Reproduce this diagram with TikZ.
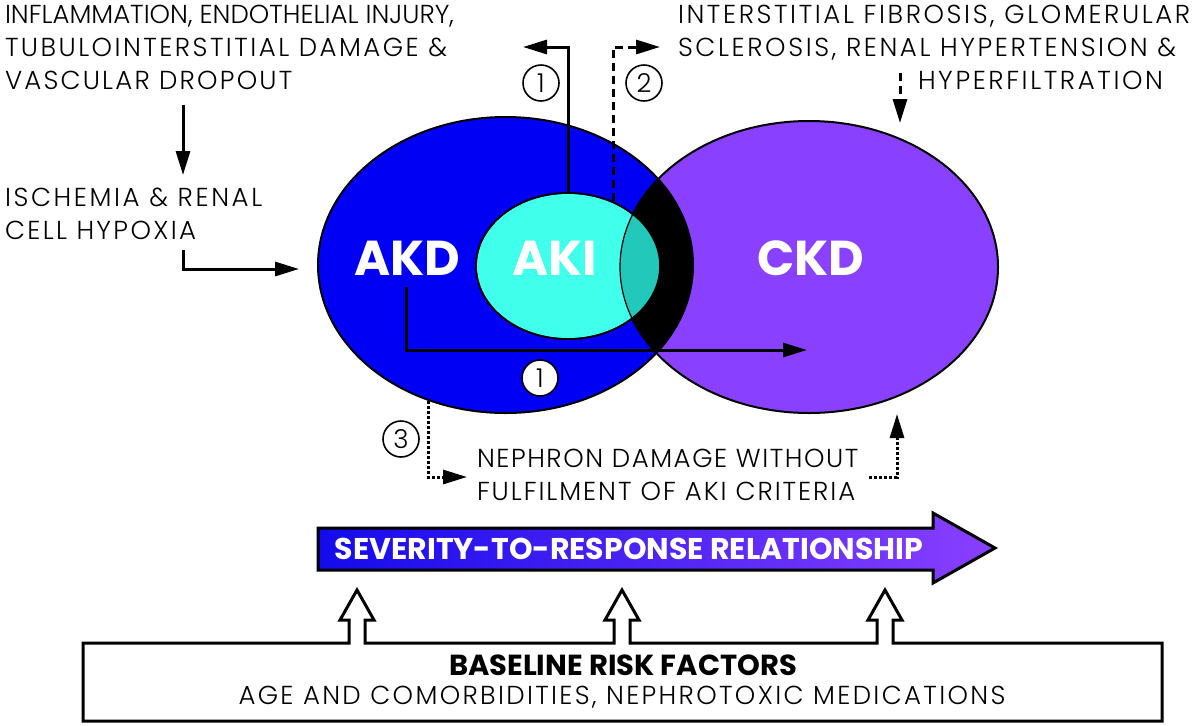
\documentclass[tikz,border=0pt]{standalone}
\usepackage{fontspec}
\setmainfont{Poppins}[UprightFont={* Light},BoldFont={* Bold}]
\usetikzlibrary{arrows.meta}

\definecolor{akdblue}{RGB}{0,0,245}
\definecolor{akicyan}{RGB}{64,255,235}
\definecolor{ckdpurple}{RGB}{138,64,255}
\definecolor{overlapteal}{RGB}{34,200,185}
\definecolor{sevstart}{RGB}{20,10,235}

\newcommand{\spaced}[1]{\addfontfeature{LetterSpace=#1}}

\begin{document}
\begin{tikzpicture}
  [x=0.5pt,y=-0.5pt,
   every node/.style={inner sep=0pt,outer sep=0pt},
   txt/.style={font=\fontsize{13}{16.5}\selectfont,align=left},
   tag/.style={text=white,font=\fontsize{24.5}{24.5}\selectfont\bfseries},
   num/.style={circle,draw,line width=0.8pt,fill=white,minimum size=18pt,
               font=\fontsize{13}{13}\selectfont},
   link/.style={line width=1.5pt,-{Triangle[length=12pt,width=7pt]}}]
\useasboundingbox (0,0) rectangle (1200,725);

  % kidney disease sets
  \fill[akdblue] (505.5,265) ellipse [x radius=187.5,y radius=148];
  \fill[ckdpurple] (809,267) ellipse [x radius=189,y radius=146];
  \begin{scope}
    \clip (505.5,265) ellipse [x radius=187.5,y radius=148];
    \fill[black] (809,267) ellipse [x radius=189,y radius=146];
  \end{scope}
  \draw[line width=1pt] (505.5,265) ellipse [x radius=187.5,y radius=148];
  \draw[line width=1pt] (809,267) ellipse [x radius=189,y radius=146];
  \filldraw[fill=akicyan,line width=0.8pt] (568,266) ellipse [x radius=92,y radius=73];
  \begin{scope}
    \clip (568,266) ellipse [x radius=92,y radius=73];
    \fill[overlapteal] (809,267) ellipse [x radius=189,y radius=146];
    \draw[line width=0.6pt] (809,267) ellipse [x radius=189,y radius=146];
  \end{scope}
  \draw[line width=0.8pt] (568,266) ellipse [x radius=92,y radius=73];

  \node (akd) [tag] at (407,258) {AKD};
  \node (aki) [tag] at (555,258) {AKI};
  \node (ckd) [tag] at (811,258) {CKD};

  % texts
  \node (inflam) [txt,anchor=north west] at (5,5)
    {INFLAMMATION, ENDOTHELIAL INJURY,\\{\spaced{9.5}TUBULOINTERSTITIAL DAMAGE \&}\\{\spaced{8.5}VASCULAR DROPOUT}};
  \node (fibro) [txt,anchor=north west] at (678,5)
    {\spaced{10}INTERSTITIAL FIBROSIS, GLOMERULAR\\\spaced{10}SCLEROSIS, RENAL HYPERTENSION \&};
  \node (hyper) [txt,anchor=north west] at (918,71) {\spaced{10}HYPERFILTRATION};
  \node (isch) [txt,anchor=north west] at (5,188)
    {{\spaced{10}ISCHEMIA \& RENAL}\\{\spaced{9}CELL HYPOXIA}};
  \node (nephron) [txt,anchor=north west] at (477,449)
    {{\spaced{6}NEPHRON DAMAGE WITHOUT}\\{\spaced{7.5}FULFILMENT OF AKI CRITERIA}};

  % connector ends
  \coordinate (vascend) at (183,105);
  \coordinate (ischtop) at (183,175);
  \coordinate (ischend) at (183,250);
  \coordinate (akdleft) at (299,269);
  \coordinate (akitop) at (568,193);
  \coordinate (injury) at (523,47);
  \coordinate (akitop2) at (613,201);
  \coordinate (fibrosis) at (660,47);
  \coordinate (hyperend) at (900,73);
  \coordinate (ckdtop) at (900,123);
  \coordinate (akdmid) at (406,287);
  \coordinate (ckdmid) at (807,350);
  \coordinate (akdbot) at (428,401);
  \coordinate (nephin) at (467,477);
  \coordinate (nephout) at (869,477);
  \coordinate (ckdbot) at (897,414);

  \draw[link] (vascend) -- (ischtop);
  \draw[link] (ischend) |- (akdleft);
  \draw[link] (akitop) |- (injury);
  \draw[link,dash pattern=on 4pt off 2.5pt] (akitop2) |- (fibrosis);
  \draw[link,dash pattern=on 4pt off 2.5pt] (hyperend) -- (ckdtop);
  \draw[link] (akdmid) |- (ckdmid);
  \draw[link,dash pattern=on 1.5pt off 1pt] (akdbot) |- (nephin);
  \draw[link,dash pattern=on 1.5pt off 1pt] (nephout) -| (ckdbot);

  \node (n1a) [num] at (541,83) {1};
  \node (n2) [num] at (644,83) {2};
  \node (n1b) [num] at (540,378) {1};
  \node (n3) [num] at (401,439) {3};

  % severity arrow
  \draw[line width=1.5pt,left color=sevstart,right color=ckdpurple]
    (318,528) -- (933,528) -- (933,513) -- (995,548) -- (933,583) -- (933,570)
    -- (318,570) -- cycle;
  \node (severity) [text=white,font=\fontsize{15}{15}\selectfont\bfseries]
    at (629,549) {SEVERITY-TO-RESPONSE RELATIONSHIP};

  % baseline box with hollow arrows
  \draw[line width=1.5pt] (83,643)
    foreach \ax in {357,622,885} {
      -- (\ax-8,643) -- (\ax-8,620) -- (\ax-17,620) -- (\ax,590)
      -- (\ax+17,620) -- (\ax+8,620) -- (\ax+8,643)}
    -- (1162,643) -- (1162,721) -- (83,721) -- cycle;
  \node (baseline) [font=\fontsize{14.5}{14.5}\selectfont\bfseries] at (623,665)
    {BASELINE RISK FACTORS};
  \node (age) [font=\fontsize{13}{13}\selectfont\spaced{9}] at (622,697)
    {AGE AND COMORBIDITIES, NEPHROTOXIC MEDICATIONS};
\end{tikzpicture}
\end{document}
